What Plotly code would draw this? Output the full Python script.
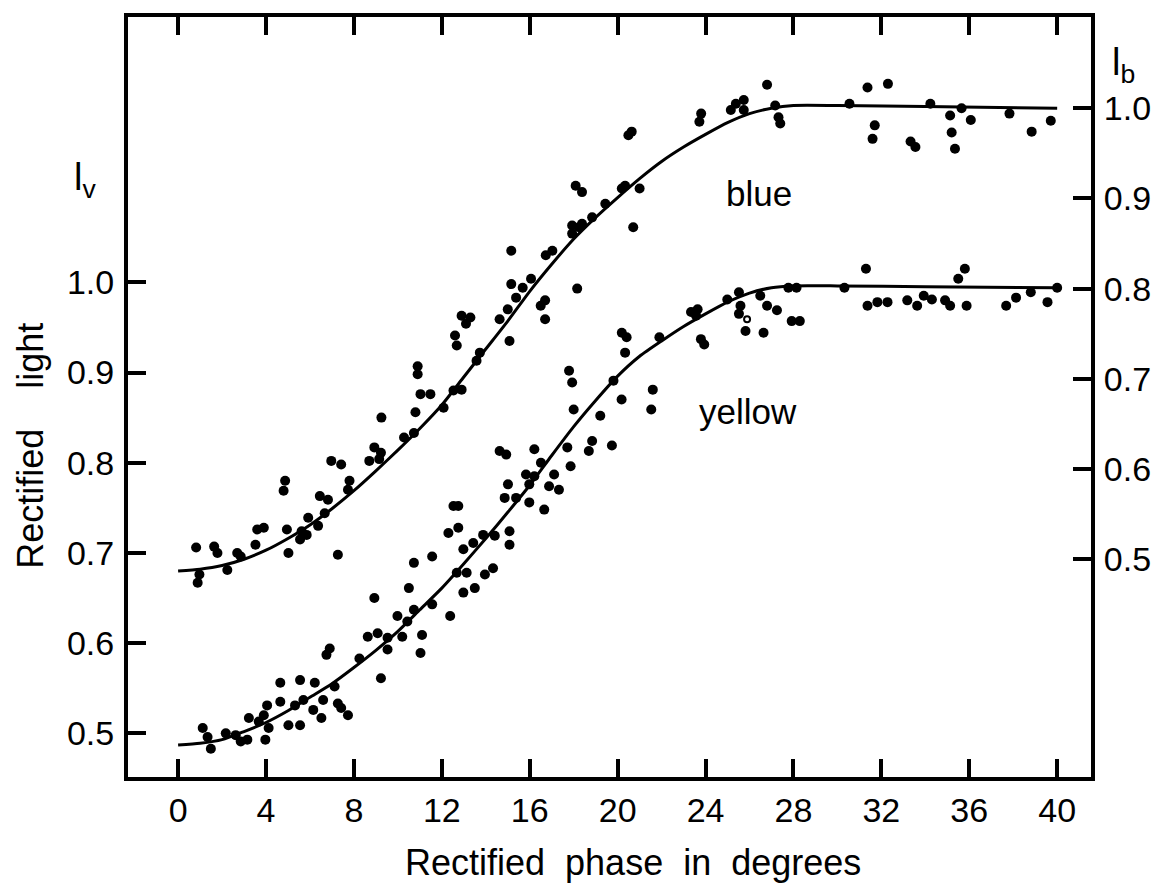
import plotly.graph_objects as go

# ---------------- data ----------------
# Rectified phase (degrees) ticks
x_ticks = [0, 4, 8, 12, 16, 20, 24, 28, 32, 36, 40]
lv_ticks = [0.5, 0.6, 0.7, 0.8, 0.9, 1.0]
lb_ticks = [0.5, 0.6, 0.7, 0.8, 0.9, 1.0]

# offset between the two light scales (right axis = left axis - offset)
lb_offset = 0.193

# blue observations (right axis, l_b)
blue_x = [0.82, 1.64, 1.79, 2.69, 2.85, 2.24, 0.89, 0.97, 3.6, 3.9, 3.52, 4.87, 4.8, 4.95, 5.02,
          5.62, 5.85, 5.55, 6.37, 5.92, 6.45, 6.82, 6.67, 6.97, 7.42, 7.27, 7.8, 7.73, 8.7, 8.93,
          9.23, 9.15, 10.28, 10.73, 9.25,
          10.8, 11.03, 11.48, 10.9, 10.9, 12.6, 12.68, 12.9, 13.3, 13.1, 12.53, 12.9, 12.08, 13.73,
          13.58, 14.63, 15.08, 15.0, 15.38, 15.68, 16.06, 15.16, 15.16, 16.7, 16.7, 16.5, 16.73,
          17.03, 18.16, 17.93, 17.93, 18.24, 18.38, 18.09, 18.38, 18.84, 19.44, 20.19, 20.34, 21.0,
          20.71, 20.49, 20.64, 23.72, 23.8, 25.15, 25.38, 25.74, 25.74, 26.8, 27.17, 27.32, 27.4,
          30.55, 31.37, 32.3, 31.7, 31.6, 33.33, 33.55, 34.23, 35.13, 35.2, 35.35, 35.65, 36.07,
          37.83, 38.84, 39.71]
blue_lb = [0.513, 0.514, 0.507, 0.507, 0.503, 0.488, 0.474, 0.483, 0.533, 0.535, 0.516, 0.587, 0.576, 0.533, 0.507,
           0.531, 0.527, 0.522, 0.537, 0.546, 0.570, 0.566, 0.551, 0.609, 0.605, 0.505, 0.587, 0.577, 0.609, 0.624,
           0.618, 0.611, 0.635, 0.640, 0.657,
           0.663, 0.683, 0.683, 0.714, 0.705, 0.748, 0.737, 0.770, 0.768, 0.761, 0.687, 0.688, 0.668, 0.729,
           0.720, 0.766, 0.742, 0.777, 0.790, 0.801, 0.811, 0.805, 0.842, 0.787, 0.766, 0.781, 0.837,
           0.842, 0.800, 0.861, 0.870, 0.868, 0.872, 0.914, 0.907, 0.879, 0.894, 0.911, 0.914, 0.911,
           0.868, 0.970, 0.974, 0.985, 0.994, 0.998, 1.005, 1.009, 0.998, 1.026, 1.003, 0.990, 0.983,
           1.005, 1.023, 1.027, 0.981, 0.966, 0.963, 0.957, 1.005, 0.992, 0.973, 0.955, 1.000, 0.987,
           0.994, 0.974, 0.986]

# blue fitted curve (l_b)
blue_curve_x = [0, 1, 2, 3, 4, 5, 6, 7, 8, 9, 10, 11, 12, 13, 14, 15, 16, 17, 18, 19, 20,
                21, 22, 23, 24, 25, 26, 27, 28, 30, 34, 40]
blue_curve_lb = [0.487, 0.489, 0.493, 0.500, 0.510, 0.523, 0.538, 0.556, 0.576, 0.598, 0.621,
                 0.645, 0.671, 0.702, 0.733, 0.764, 0.797, 0.827, 0.855, 0.879, 0.901, 0.922,
                 0.941, 0.957, 0.971, 0.984, 0.994, 1.000, 1.003, 1.003, 1.002, 1.000]

# yellow observations (left axis, l_v)
yellow_x = [1.12, 1.34, 1.49, 2.17, 2.62, 2.85, 3.15, 3.22, 3.67, 3.9, 3.97, 4.12, 4.05, 4.65, 4.65,
            5.55, 5.02, 5.55, 5.32, 5.7, 6.22, 6.15, 6.6, 6.52, 7.12, 7.27, 7.42, 7.73, 6.9, 6.75,
            8.25, 8.63, 9.08, 9.53, 9.53, 9.23, 9.98, 10.43, 10.2, 10.73, 11.1, 11.03, 8.93, 10.5,
            10.73, 11.56, 11.56, 12.38, 12.3, 12.75, 12.53, 12.75, 12.68, 13.13, 12.98, 13.5, 13.96,
            14.33, 12.98, 13.43, 13.88, 14.41, 15.08, 15.08, 15.01, 14.86, 15.38, 15.98, 16.66, 15.83,
            16.21, 15.98, 14.63, 14.93, 16.21, 16.51, 16.88, 17.33, 17.11, 17.86, 17.71, 18.69, 18.84,
            19.74, 17.79, 17.93, 18.0, 19.21, 19.81, 20.18, 20.19, 20.41, 20.34, 21.6, 21.53, 21.9,
            23.79, 23.94, 23.34, 23.64, 23.57, 24.99, 25.52, 25.59, 25.52, 25.82, 26.64, 26.49, 26.8,
            27.25, 27.77, 28.14, 27.92, 28.29, 30.32, 31.3, 31.37, 31.82, 32.28, 33.18, 33.63, 33.93,
            34.3, 34.9, 35.13, 35.5, 35.8, 35.88, 37.68, 38.13, 38.8, 39.56, 40.0]
yellow_lv = [0.506, 0.496, 0.483, 0.500, 0.498, 0.491, 0.493, 0.517, 0.513, 0.520, 0.493, 0.506, 0.531, 0.556, 0.535,
             0.559, 0.509, 0.509, 0.531, 0.537, 0.556, 0.526, 0.537, 0.517, 0.552, 0.533, 0.528, 0.520, 0.594, 0.587,
             0.583, 0.607, 0.611, 0.606, 0.593, 0.561, 0.630, 0.624, 0.607, 0.637, 0.609, 0.589, 0.650, 0.661,
             0.689, 0.696, 0.643, 0.630, 0.722, 0.728, 0.752, 0.752, 0.678, 0.678, 0.656, 0.661, 0.676,
             0.683, 0.704, 0.711, 0.720, 0.719, 0.724, 0.709, 0.776, 0.761, 0.761, 0.756, 0.748, 0.787,
             0.785, 0.776, 0.813, 0.809, 0.815, 0.800, 0.774, 0.770, 0.787, 0.796, 0.817, 0.813, 0.824,
             0.819, 0.902, 0.889, 0.859, 0.852, 0.891, 0.870, 0.944, 0.939, 0.922, 0.881, 0.859, 0.939,
             0.937, 0.931, 0.967, 0.970, 0.963, 0.981, 0.989, 0.974, 0.965, 0.946, 0.944, 0.985, 0.974,
             0.969, 0.994, 0.994, 0.957, 0.957, 0.994, 1.015, 0.974, 0.978, 0.978, 0.980, 0.974, 0.985,
             0.981, 0.980, 0.974, 1.004, 1.015, 0.974, 0.974, 0.983, 0.989, 0.978, 0.994]
yellow_open_x = [25.89]
yellow_open_lv = [0.959]

# yellow fitted curve (l_v)
yellow_curve_x = [0, 1, 2, 3, 4, 5, 6, 7, 8, 9, 10, 11, 12, 13, 14, 15, 16, 17, 18, 19, 20,
                  21, 22, 23, 24, 25, 26, 27, 28, 30, 34, 40]
yellow_curve_lv = [0.487, 0.489, 0.493, 0.502, 0.512, 0.525, 0.540, 0.555, 0.573, 0.592, 0.613,
                   0.637, 0.661, 0.688, 0.716, 0.745, 0.775, 0.808, 0.840, 0.869, 0.896, 0.918,
                   0.935, 0.951, 0.965, 0.978, 0.988, 0.994, 0.996, 0.996, 0.995, 0.994]

# ---------------- figure ----------------
FONT = "Liberation Sans, Arial, sans-serif"
INK = "#000000"

x_range = [-2.28, 41.54]
lv_range = [0.4516, 1.2941]
lb_range = [lv_range[0] - lb_offset, lv_range[1] - lb_offset]

fig = go.Figure()

fig.add_trace(go.Scatter(x=blue_curve_x, y=blue_curve_lb, yaxis="y2", mode="lines",
                         line=dict(color=INK, width=3, shape="spline", smoothing=0.6),
                         showlegend=False, hoverinfo="skip"))
fig.add_trace(go.Scatter(x=blue_x, y=blue_lb, yaxis="y2", mode="markers",
                         marker=dict(color=INK, size=10), showlegend=False, name="blue"))
fig.add_trace(go.Scatter(x=yellow_curve_x, y=yellow_curve_lv, mode="lines",
                         line=dict(color=INK, width=3, shape="spline", smoothing=0.6),
                         showlegend=False, hoverinfo="skip"))
fig.add_trace(go.Scatter(x=yellow_x, y=yellow_lv, mode="markers",
                         marker=dict(color=INK, size=10), showlegend=False, name="yellow"))
fig.add_trace(go.Scatter(x=yellow_open_x, y=yellow_open_lv, mode="markers",
                         marker=dict(color="white", size=6, line=dict(color=INK, width=2)),
                         showlegend=False, name="yellow (open)"))

axis_common = dict(showgrid=False, zeroline=False, showline=True, linecolor=INK, linewidth=4,
                   ticks="inside", ticklen=18, tickwidth=4, tickcolor=INK,
                   tickfont=dict(family=FONT, size=34, color=INK))

fig.update_layout(
    width=1163, height=896,
    margin=dict(l=128, r=66, t=17, b=119),
    paper_bgcolor="white", plot_bgcolor="white",
    font=dict(family=FONT, color=INK),
    xaxis=dict(range=x_range, tickvals=x_ticks, ticktext=[str(v) for v in x_ticks],
               mirror="ticks", ticklabelstandoff=0, **axis_common),
    yaxis=dict(range=lv_range, tickvals=lv_ticks, ticktext=[f"{v:.1f}" for v in lv_ticks],
               ticklabelstandoff=3, **axis_common),
    yaxis2=dict(range=lb_range, tickvals=lb_ticks, ticktext=[f"{v:.1f}" for v in lb_ticks],
                overlaying="y", side="right", ticklabelstandoff=2, **axis_common),
    annotations=[
        dict(text="Rectified  phase  in  degrees", xref="paper", yref="paper",
             x=0.524, y=-0.112, showarrow=False, xanchor="center", yanchor="middle",
             font=dict(family=FONT, size=36, color=INK)),
        dict(text="Rectified    light", xref="paper", yref="paper", textangle=-90,
             x=-0.102, y=0.4355, showarrow=False, xanchor="center", yanchor="middle",
             font=dict(family=FONT, size=36, color=INK)),
        dict(text="l<sub>v</sub>", xref="paper", yref="paper",
             x=-0.0444, y=0.7855, showarrow=False, xanchor="center", yanchor="middle",
             font=dict(family=FONT, size=38, color=INK)),
        dict(text="l<sub>b</sub>", xref="paper", yref="paper",
             x=1.034, y=0.937, showarrow=False, xanchor="center", yanchor="middle",
             font=dict(family=FONT, size=38, color=INK)),
        dict(text="blue", x=26.44, y=1.099, xref="x", yref="y", showarrow=False,
             xanchor="center", yanchor="middle", font=dict(family=FONT, size=35, color=INK)),
        dict(text="yellow", x=25.93, y=0.857, xref="x", yref="y", showarrow=False,
             xanchor="center", yanchor="middle", font=dict(family=FONT, size=35, color=INK)),
    ],
)

fig.write_html("out.html")
